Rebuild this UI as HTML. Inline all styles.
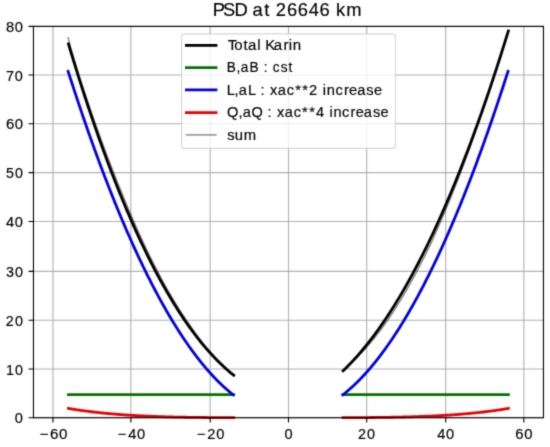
<!DOCTYPE html>
<html><head><meta charset="utf-8"><style>
html,body{margin:0;padding:0;background:#fff;}
body{width:550px;height:447px;overflow:hidden;font-family:"Liberation Sans",sans-serif;}
svg{display:block;will-change:transform;}
</style></head><body>
<svg width="550" height="447" viewBox="0 0 550 447"><defs><filter id="soft" color-interpolation-filters="sRGB" filterUnits="userSpaceOnUse" x="0" y="0" width="550" height="447"><feConvolveMatrix order="3" kernelMatrix="0.02250 0.10500 0.02250 0.10500 0.49000 0.10500 0.02250 0.10500 0.02250" divisor="1" edgeMode="duplicate"/></filter></defs><g filter="url(#soft)"><rect width="550" height="447" fill="#fff"/><path d="M52.95 26.40V417.70M130.87 26.40V417.70M210.16 26.40V417.70M288.50 26.40V417.70M366.70 26.40V417.70M445.70 26.40V417.70M523.87 26.40V417.70M33.46 417.70H543.46M33.46 369.05H543.46M33.46 320.30H543.46M33.46 271.40H543.46M33.46 221.50H543.46M33.46 172.60H543.46M33.46 123.70H543.46M33.46 75.05H543.46M33.46 26.40H543.46" stroke="#b0b0b0" stroke-width="1.1" fill="none"/><polyline points="68.47,43.87 69.51,47.35 70.55,50.81 71.59,54.26 72.63,57.68 73.66,61.08 74.70,64.46 75.74,67.82 76.78,71.17 77.82,74.49 78.86,77.80 79.90,81.09 80.94,84.35 81.98,87.60 83.02,90.83 84.05,94.04 85.09,97.23 86.13,100.40 87.17,103.56 88.21,106.69 89.25,109.81 90.29,112.90 91.33,115.98 92.37,119.04 93.41,122.08 94.44,125.10 95.48,128.11 96.52,131.09 97.56,134.06 98.60,137.01 99.64,139.93 100.68,142.84 101.72,145.74 102.76,148.61 103.80,151.47 104.83,154.30 105.87,157.12 106.91,159.92 107.95,162.70 108.99,165.47 110.03,168.21 111.07,170.94 112.11,173.65 113.15,176.34 114.19,179.02 115.22,181.67 116.26,184.31 117.30,186.93 118.34,189.53 119.38,192.11 120.42,194.68 121.46,197.23 122.50,199.76 123.54,202.27 124.58,204.77 125.61,207.24 126.65,209.70 127.69,212.15 128.73,214.57 129.77,216.98 130.81,219.37 131.85,221.74 132.89,224.10 133.93,226.43 134.97,228.75 136.00,231.06 137.04,233.34 138.08,235.61 139.12,237.86 140.16,240.10 141.20,242.31 142.24,244.51 143.28,246.70 144.32,248.86 145.36,251.01 146.39,253.14 147.43,255.26 148.47,257.36 149.51,259.44 150.55,261.50 151.59,263.55 152.63,265.58 153.67,267.60 154.71,269.59 155.75,271.58 156.78,273.54 157.82,275.49 158.86,277.42 159.90,279.33 160.94,281.23 161.98,283.11 163.02,284.98 164.06,286.83 165.10,288.66 166.14,290.48 167.17,292.28 168.21,294.06 169.25,295.83 170.29,297.58 171.33,299.32 172.37,301.04 173.41,302.74 174.45,304.43 175.49,306.10 176.53,307.76 177.56,309.39 178.60,311.02 179.64,312.63 180.68,314.22 181.72,315.80 182.76,317.36 183.80,318.90 184.84,320.43 185.88,321.94 186.92,323.44 187.95,324.92 188.99,326.39 190.03,327.84 191.07,329.28 192.11,330.70 193.15,332.10 194.19,333.49 195.23,334.87 196.27,336.23 197.31,337.57 198.34,338.90 199.38,340.21 200.42,341.51 201.46,342.79 202.50,344.06 203.54,345.32 204.58,346.55 205.62,347.78 206.66,348.99 207.70,350.18 208.73,351.36 209.77,352.52 210.81,353.67 211.85,354.80 212.89,355.92 213.93,357.03 214.97,358.12 216.01,359.19 217.05,360.25 218.09,361.30 219.12,362.33 220.16,363.35 221.20,364.35 222.24,365.34 223.28,366.31 224.32,367.27 225.36,368.22 226.40,369.15 227.44,370.07 228.48,370.97 229.51,371.86 230.55,372.73 231.59,373.59 232.63,374.44 233.67,375.27" fill="none" stroke="#000" stroke-width="2.8" stroke-linecap="square" stroke-linejoin="round"/><polyline points="68.47,394.61 69.51,394.61 70.55,394.61 71.59,394.61 72.63,394.61 73.66,394.61 74.70,394.61 75.74,394.61 76.78,394.61 77.82,394.61 78.86,394.61 79.90,394.61 80.94,394.61 81.98,394.61 83.02,394.61 84.05,394.61 85.09,394.61 86.13,394.61 87.17,394.61 88.21,394.61 89.25,394.61 90.29,394.61 91.33,394.61 92.37,394.61 93.41,394.61 94.44,394.61 95.48,394.61 96.52,394.61 97.56,394.61 98.60,394.61 99.64,394.61 100.68,394.61 101.72,394.61 102.76,394.61 103.80,394.61 104.83,394.61 105.87,394.61 106.91,394.61 107.95,394.61 108.99,394.61 110.03,394.61 111.07,394.61 112.11,394.61 113.15,394.61 114.19,394.61 115.22,394.61 116.26,394.61 117.30,394.61 118.34,394.61 119.38,394.61 120.42,394.61 121.46,394.61 122.50,394.61 123.54,394.61 124.58,394.61 125.61,394.61 126.65,394.61 127.69,394.61 128.73,394.61 129.77,394.61 130.81,394.61 131.85,394.61 132.89,394.61 133.93,394.61 134.97,394.61 136.00,394.61 137.04,394.61 138.08,394.61 139.12,394.61 140.16,394.61 141.20,394.61 142.24,394.61 143.28,394.61 144.32,394.61 145.36,394.61 146.39,394.61 147.43,394.61 148.47,394.61 149.51,394.61 150.55,394.61 151.59,394.61 152.63,394.61 153.67,394.61 154.71,394.61 155.75,394.61 156.78,394.61 157.82,394.61 158.86,394.61 159.90,394.61 160.94,394.61 161.98,394.61 163.02,394.61 164.06,394.61 165.10,394.61 166.14,394.61 167.17,394.61 168.21,394.61 169.25,394.61 170.29,394.61 171.33,394.61 172.37,394.61 173.41,394.61 174.45,394.61 175.49,394.61 176.53,394.61 177.56,394.61 178.60,394.61 179.64,394.61 180.68,394.61 181.72,394.61 182.76,394.61 183.80,394.61 184.84,394.61 185.88,394.61 186.92,394.61 187.95,394.61 188.99,394.61 190.03,394.61 191.07,394.61 192.11,394.61 193.15,394.61 194.19,394.61 195.23,394.61 196.27,394.61 197.31,394.61 198.34,394.61 199.38,394.61 200.42,394.61 201.46,394.61 202.50,394.61 203.54,394.61 204.58,394.61 205.62,394.61 206.66,394.61 207.70,394.61 208.73,394.61 209.77,394.61 210.81,394.61 211.85,394.61 212.89,394.61 213.93,394.61 214.97,394.61 216.01,394.61 217.05,394.61 218.09,394.61 219.12,394.61 220.16,394.61 221.20,394.61 222.24,394.61 223.28,394.61 224.32,394.61 225.36,394.61 226.40,394.61 227.44,394.61 228.48,394.61 229.51,394.61 230.55,394.61 231.59,394.61 232.63,394.61 233.67,394.61" fill="none" stroke="#007200" stroke-width="2.8" stroke-linecap="square" stroke-linejoin="round"/><polyline transform="translate(-0.35 0)" points="68.47,71.33 69.51,74.59 70.55,77.82 71.59,81.04 72.63,84.25 73.66,87.44 74.70,90.61 75.74,93.77 76.78,96.91 77.82,100.04 78.86,103.15 79.90,106.25 80.94,109.33 81.98,112.40 83.02,115.45 84.05,118.48 85.09,121.50 86.13,124.51 87.17,127.50 88.21,130.47 89.25,133.43 90.29,136.37 91.33,139.30 92.37,142.21 93.41,145.11 94.44,147.99 95.48,150.85 96.52,153.71 97.56,156.54 98.60,159.36 99.64,162.17 100.68,164.95 101.72,167.73 102.76,170.49 103.80,173.23 104.83,175.96 105.87,178.67 106.91,181.37 107.95,184.05 108.99,186.71 110.03,189.36 111.07,192.00 112.11,194.62 113.15,197.22 114.19,199.81 115.22,202.39 116.26,204.94 117.30,207.49 118.34,210.01 119.38,212.53 120.42,215.02 121.46,217.50 122.50,219.97 123.54,222.42 124.58,224.85 125.61,227.27 126.65,229.68 127.69,232.07 128.73,234.44 129.77,236.80 130.81,239.14 131.85,241.47 132.89,243.78 133.93,246.08 134.97,248.36 136.00,250.62 137.04,252.87 138.08,255.11 139.12,257.33 140.16,259.53 141.20,261.72 142.24,263.90 143.28,266.05 144.32,268.20 145.36,270.32 146.39,272.43 147.43,274.53 148.47,276.61 149.51,278.68 150.55,280.73 151.59,282.76 152.63,284.78 153.67,286.79 154.71,288.77 155.75,290.75 156.78,292.71 157.82,294.65 158.86,296.58 159.90,298.49 160.94,300.38 161.98,302.26 163.02,304.13 164.06,305.98 165.10,307.81 166.14,309.63 167.17,311.44 168.21,313.23 169.25,315.00 170.29,316.76 171.33,318.50 172.37,320.23 173.41,321.94 174.45,323.63 175.49,325.31 176.53,326.98 177.56,328.63 178.60,330.26 179.64,331.88 180.68,333.49 181.72,335.08 182.76,336.65 183.80,338.21 184.84,339.75 185.88,341.28 186.92,342.79 187.95,344.28 188.99,345.76 190.03,347.23 191.07,348.68 192.11,350.11 193.15,351.53 194.19,352.94 195.23,354.32 196.27,355.70 197.31,357.05 198.34,358.40 199.38,359.72 200.42,361.03 201.46,362.33 202.50,363.61 203.54,364.88 204.58,366.13 205.62,367.36 206.66,368.58 207.70,369.78 208.73,370.97 209.77,372.14 210.81,373.30 211.85,374.44 212.89,375.57 213.93,376.68 214.97,377.78 216.01,378.86 217.05,379.92 218.09,380.97 219.12,382.01 220.16,383.02 221.20,384.03 222.24,385.02 223.28,385.99 224.32,386.95 225.36,387.89 226.40,388.81 227.44,389.73 228.48,390.62 229.51,391.50 230.55,392.37 231.59,393.22 232.63,394.05 233.67,394.87" fill="none" stroke="#0000e0" stroke-width="2.8" stroke-linecap="square" stroke-linejoin="round"/><polyline points="68.47,408.46 69.51,408.63 70.55,408.80 71.59,408.97 72.63,409.13 73.66,409.30 74.70,409.46 75.74,409.62 76.78,409.78 77.82,409.93 78.86,410.08 79.90,410.23 80.94,410.38 81.98,410.53 83.02,410.67 84.05,410.81 85.09,410.95 86.13,411.09 87.17,411.22 88.21,411.35 89.25,411.48 90.29,411.61 91.33,411.74 92.37,411.86 93.41,411.99 94.44,412.11 95.48,412.23 96.52,412.34 97.56,412.46 98.60,412.57 99.64,412.68 100.68,412.79 101.72,412.90 102.76,413.01 103.80,413.11 104.83,413.21 105.87,413.31 106.91,413.41 107.95,413.51 108.99,413.61 110.03,413.70 111.07,413.79 112.11,413.88 113.15,413.97 114.19,414.06 115.22,414.15 116.26,414.23 117.30,414.31 118.34,414.40 119.38,414.48 120.42,414.55 121.46,414.63 122.50,414.71 123.54,414.78 124.58,414.85 125.61,414.93 126.65,415.00 127.69,415.06 128.73,415.13 129.77,415.20 130.81,415.26 131.85,415.33 132.89,415.39 133.93,415.45 134.97,415.51 136.00,415.57 137.04,415.63 138.08,415.68 139.12,415.74 140.16,415.79 141.20,415.84 142.24,415.90 143.28,415.95 144.32,416.00 145.36,416.05 146.39,416.09 147.43,416.14 148.47,416.19 149.51,416.23 150.55,416.27 151.59,416.32 152.63,416.36 153.67,416.40 154.71,416.44 155.75,416.48 156.78,416.51 157.82,416.55 158.86,416.59 159.90,416.62 160.94,416.66 161.98,416.69 163.02,416.72 164.06,416.76 165.10,416.79 166.14,416.82 167.17,416.85 168.21,416.88 169.25,416.90 170.29,416.93 171.33,416.96 172.37,416.98 173.41,417.01 174.45,417.03 175.49,417.06 176.53,417.08 177.56,417.10 178.60,417.13 179.64,417.15 180.68,417.17 181.72,417.19 182.76,417.21 183.80,417.23 184.84,417.25 185.88,417.26 186.92,417.28 187.95,417.30 188.99,417.31 190.03,417.33 191.07,417.35 192.11,417.36 193.15,417.37 194.19,417.39 195.23,417.40 196.27,417.42 197.31,417.43 198.34,417.44 199.38,417.45 200.42,417.46 201.46,417.47 202.50,417.48 203.54,417.50 204.58,417.50 205.62,417.51 206.66,417.52 207.70,417.53 208.73,417.54 209.77,417.55 210.81,417.56 211.85,417.56 212.89,417.57 213.93,417.58 214.97,417.59 216.01,417.59 217.05,417.60 218.09,417.60 219.12,417.61 220.16,417.61 221.20,417.62 222.24,417.62 223.28,417.63 224.32,417.63 225.36,417.64 226.40,417.64 227.44,417.65 228.48,417.65 229.51,417.65 230.55,417.66 231.59,417.66 232.63,417.66 233.67,417.66" fill="none" stroke="#e80000" stroke-width="2.8" stroke-linecap="square" stroke-linejoin="round"/><polyline points="68.20,37.86 69.24,42.05 70.28,46.21 71.32,49.93 72.36,53.42 73.40,56.89 74.44,60.33 75.48,63.76 76.52,67.17 77.56,70.55 78.60,73.92 79.64,77.27 80.68,80.57 81.72,83.74 82.77,86.89 83.81,90.02 84.85,93.14 85.89,96.24 86.93,99.32 87.97,102.38 89.01,105.42 90.05,108.45 91.09,111.46 92.13,114.45 93.17,117.42 94.21,120.38 95.25,123.31 96.29,126.23 97.34,129.13 98.38,132.02 99.42,134.89 100.46,137.75 101.50,140.61 102.54,143.45 103.58,146.28 104.62,149.08 105.66,151.87 106.70,154.65 107.74,157.40 108.78,160.14 109.82,162.86 110.86,165.56 111.91,168.24 112.95,170.91 113.99,173.56 115.03,176.19 116.07,178.80 117.11,181.40 118.15,183.98 119.19,186.54 120.23,189.09 121.27,191.62 122.31,194.13 123.35,196.62 124.39,199.16 125.43,201.70 126.48,204.22 127.52,206.72 128.56,209.20 129.60,211.67 130.64,214.12 131.68,216.55 132.72,218.97 133.76,221.36 134.80,223.74 135.84,226.10 136.88,228.44 137.92,230.77 138.96,233.07 140.01,235.36 141.05,237.63 142.09,239.89 143.13,242.12 144.17,244.34 145.21,246.55 146.25,248.73 147.29,250.90 148.33,253.05 149.37,255.18 150.41,257.30 151.45,259.40 152.49,261.48 153.53,263.54 154.58,265.59 155.62,267.62 156.66,269.63 157.70,271.63 158.74,273.61 159.78,275.57 160.82,277.52 161.86,279.46 162.90,281.37 163.94,283.27 164.98,285.16 166.02,287.02 167.06,288.87 168.10,290.71 169.15,292.52 170.19,294.32 171.23,296.11 172.27,297.87 173.31,299.62 174.35,301.36 175.39,303.07 176.43,304.77 177.47,306.46 178.51,308.13 179.55,309.78 180.59,311.41 181.63,313.03 182.67,314.64 183.72,316.22 184.76,317.80 185.80,319.35 186.84,320.90 187.88,322.45 188.92,323.98 189.96,325.50 191.00,327.00 192.04,328.48 193.08,329.95 194.12,331.40 195.16,332.84 196.20,334.26 197.24,335.66 198.29,337.05 199.33,338.42 200.37,339.78 201.41,341.12 202.45,342.44 203.49,343.75 204.53,345.04 205.57,346.32 206.61,347.58 207.65,348.83 208.69,350.06 209.73,351.27 210.77,352.47 211.82,353.64 212.86,354.80 213.90,355.95 214.94,357.08 215.98,358.20 217.02,359.30 218.06,360.38 219.10,361.45 220.14,362.51 221.18,363.55 222.22,364.58 223.26,365.59 224.30,366.58 225.34,367.56 226.39,368.53 227.43,369.48 228.47,370.42 229.51,371.34 230.55,372.25 231.59,373.14 232.63,374.02 233.67,374.88" fill="none" stroke="#000" stroke-opacity="0.5" stroke-width="1.35" stroke-linecap="square" stroke-linejoin="round"/><polyline points="343.15,370.70 344.19,369.71 345.23,368.70 346.27,367.68 347.31,366.64 348.34,365.59 349.38,364.53 350.42,363.46 351.46,362.37 352.50,361.27 353.54,360.15 354.58,359.02 355.62,357.88 356.66,356.73 357.70,355.56 358.73,354.37 359.77,353.18 360.81,351.97 361.85,350.74 362.89,349.50 363.93,348.25 364.97,346.99 366.01,345.71 367.05,344.42 368.09,343.11 369.12,341.79 370.16,340.46 371.20,339.11 372.24,337.75 373.28,336.37 374.32,334.98 375.36,333.58 376.40,332.16 377.44,330.73 378.48,329.29 379.51,327.83 380.55,326.35 381.59,324.87 382.63,323.36 383.67,321.85 384.71,320.32 385.75,318.77 386.79,317.22 387.83,315.64 388.87,314.06 389.90,312.46 390.94,310.84 391.98,309.21 393.02,307.57 394.06,305.91 395.10,304.24 396.14,302.55 397.18,300.85 398.22,299.13 399.26,297.40 400.29,295.66 401.33,293.90 402.37,292.13 403.41,290.34 404.45,288.54 405.49,286.72 406.53,284.89 407.57,283.04 408.61,281.18 409.65,279.30 410.68,277.41 411.72,275.51 412.76,273.59 413.80,271.65 414.84,269.70 415.88,267.74 416.92,265.76 417.96,263.77 419.00,261.76 420.04,259.73 421.07,257.70 422.11,255.64 423.15,253.57 424.19,251.49 425.23,249.39 426.27,247.28 427.31,245.15 428.35,243.01 429.39,240.85 430.43,238.67 431.46,236.48 432.50,234.28 433.54,232.06 434.58,229.83 435.62,227.58 436.66,225.31 437.70,223.03 438.74,220.74 439.78,218.43 440.82,216.10 441.85,213.76 442.89,211.40 443.93,209.03 444.97,206.64 446.01,204.24 447.05,201.82 448.09,199.39 449.13,196.94 450.17,194.47 451.21,191.99 452.24,189.49 453.28,186.98 454.32,184.46 455.36,181.91 456.40,179.35 457.44,176.78 458.48,174.19 459.52,171.58 460.56,168.96 461.60,166.33 462.63,163.67 463.67,161.00 464.71,158.32 465.75,155.62 466.79,152.90 467.83,150.17 468.87,147.42 469.91,144.66 470.95,141.88 471.99,139.08 473.02,136.27 474.06,133.44 475.10,130.60 476.14,127.74 477.18,124.86 478.22,121.97 479.26,119.06 480.30,116.13 481.34,113.19 482.38,110.23 483.41,107.26 484.45,104.27 485.49,101.27 486.53,98.24 487.57,95.20 488.61,92.15 489.65,89.08 490.69,85.99 491.73,82.89 492.77,79.77 493.80,76.63 494.84,73.48 495.88,70.31 496.92,67.12 497.96,63.92 499.00,60.70 500.04,57.46 501.08,54.21 502.12,50.94 503.16,47.65 504.19,44.35 505.23,41.03 506.27,37.69 507.31,34.34 508.35,30.97" fill="none" stroke="#000" stroke-width="2.8" stroke-linecap="square" stroke-linejoin="round"/><polyline points="343.15,394.61 344.19,394.61 345.23,394.61 346.27,394.61 347.31,394.61 348.34,394.61 349.38,394.61 350.42,394.61 351.46,394.61 352.50,394.61 353.54,394.61 354.58,394.61 355.62,394.61 356.66,394.61 357.70,394.61 358.73,394.61 359.77,394.61 360.81,394.61 361.85,394.61 362.89,394.61 363.93,394.61 364.97,394.61 366.01,394.61 367.05,394.61 368.09,394.61 369.12,394.61 370.16,394.61 371.20,394.61 372.24,394.61 373.28,394.61 374.32,394.61 375.36,394.61 376.40,394.61 377.44,394.61 378.48,394.61 379.51,394.61 380.55,394.61 381.59,394.61 382.63,394.61 383.67,394.61 384.71,394.61 385.75,394.61 386.79,394.61 387.83,394.61 388.87,394.61 389.90,394.61 390.94,394.61 391.98,394.61 393.02,394.61 394.06,394.61 395.10,394.61 396.14,394.61 397.18,394.61 398.22,394.61 399.26,394.61 400.29,394.61 401.33,394.61 402.37,394.61 403.41,394.61 404.45,394.61 405.49,394.61 406.53,394.61 407.57,394.61 408.61,394.61 409.65,394.61 410.68,394.61 411.72,394.61 412.76,394.61 413.80,394.61 414.84,394.61 415.88,394.61 416.92,394.61 417.96,394.61 419.00,394.61 420.04,394.61 421.07,394.61 422.11,394.61 423.15,394.61 424.19,394.61 425.23,394.61 426.27,394.61 427.31,394.61 428.35,394.61 429.39,394.61 430.43,394.61 431.46,394.61 432.50,394.61 433.54,394.61 434.58,394.61 435.62,394.61 436.66,394.61 437.70,394.61 438.74,394.61 439.78,394.61 440.82,394.61 441.85,394.61 442.89,394.61 443.93,394.61 444.97,394.61 446.01,394.61 447.05,394.61 448.09,394.61 449.13,394.61 450.17,394.61 451.21,394.61 452.24,394.61 453.28,394.61 454.32,394.61 455.36,394.61 456.40,394.61 457.44,394.61 458.48,394.61 459.52,394.61 460.56,394.61 461.60,394.61 462.63,394.61 463.67,394.61 464.71,394.61 465.75,394.61 466.79,394.61 467.83,394.61 468.87,394.61 469.91,394.61 470.95,394.61 471.99,394.61 473.02,394.61 474.06,394.61 475.10,394.61 476.14,394.61 477.18,394.61 478.22,394.61 479.26,394.61 480.30,394.61 481.34,394.61 482.38,394.61 483.41,394.61 484.45,394.61 485.49,394.61 486.53,394.61 487.57,394.61 488.61,394.61 489.65,394.61 490.69,394.61 491.73,394.61 492.77,394.61 493.80,394.61 494.84,394.61 495.88,394.61 496.92,394.61 497.96,394.61 499.00,394.61 500.04,394.61 501.08,394.61 502.12,394.61 503.16,394.61 504.19,394.61 505.23,394.61 506.27,394.61 507.31,394.61 508.35,394.61" fill="none" stroke="#007200" stroke-width="2.8" stroke-linecap="square" stroke-linejoin="round"/><polyline transform="translate(-0.35 0)" points="343.15,394.87 344.19,394.05 345.23,393.22 346.27,392.37 347.31,391.50 348.34,390.62 349.38,389.73 350.42,388.81 351.46,387.89 352.50,386.95 353.54,385.99 354.58,385.02 355.62,384.03 356.66,383.02 357.70,382.01 358.73,380.97 359.77,379.92 360.81,378.86 361.85,377.78 362.89,376.68 363.93,375.57 364.97,374.44 366.01,373.30 367.05,372.14 368.09,370.97 369.12,369.78 370.16,368.58 371.20,367.36 372.24,366.13 373.28,364.88 374.32,363.61 375.36,362.33 376.40,361.03 377.44,359.72 378.48,358.40 379.51,357.05 380.55,355.70 381.59,354.32 382.63,352.94 383.67,351.53 384.71,350.11 385.75,348.68 386.79,347.23 387.83,345.76 388.87,344.28 389.90,342.79 390.94,341.28 391.98,339.75 393.02,338.21 394.06,336.65 395.10,335.08 396.14,333.49 397.18,331.88 398.22,330.26 399.26,328.63 400.29,326.98 401.33,325.31 402.37,323.63 403.41,321.94 404.45,320.23 405.49,318.50 406.53,316.76 407.57,315.00 408.61,313.23 409.65,311.44 410.68,309.63 411.72,307.81 412.76,305.98 413.80,304.13 414.84,302.26 415.88,300.38 416.92,298.49 417.96,296.58 419.00,294.65 420.04,292.71 421.07,290.75 422.11,288.77 423.15,286.79 424.19,284.78 425.23,282.76 426.27,280.73 427.31,278.68 428.35,276.61 429.39,274.53 430.43,272.43 431.46,270.32 432.50,268.20 433.54,266.05 434.58,263.90 435.62,261.72 436.66,259.53 437.70,257.33 438.74,255.11 439.78,252.87 440.82,250.62 441.85,248.36 442.89,246.08 443.93,243.78 444.97,241.47 446.01,239.14 447.05,236.80 448.09,234.44 449.13,232.07 450.17,229.68 451.21,227.27 452.24,224.85 453.28,222.42 454.32,219.97 455.36,217.50 456.40,215.02 457.44,212.53 458.48,210.01 459.52,207.49 460.56,204.94 461.60,202.39 462.63,199.81 463.67,197.22 464.71,194.62 465.75,192.00 466.79,189.36 467.83,186.71 468.87,184.05 469.91,181.37 470.95,178.67 471.99,175.96 473.02,173.23 474.06,170.49 475.10,167.73 476.14,164.95 477.18,162.17 478.22,159.36 479.26,156.54 480.30,153.71 481.34,150.85 482.38,147.99 483.41,145.11 484.45,142.21 485.49,139.30 486.53,136.37 487.57,133.43 488.61,130.47 489.65,127.50 490.69,124.51 491.73,121.50 492.77,118.48 493.80,115.45 494.84,112.40 495.88,109.33 496.92,106.25 497.96,103.15 499.00,100.04 500.04,96.91 501.08,93.77 502.12,90.61 503.16,87.44 504.19,84.25 505.23,81.04 506.27,77.82 507.31,74.59 508.35,71.33" fill="none" stroke="#0000e0" stroke-width="2.8" stroke-linecap="square" stroke-linejoin="round"/><polyline points="343.15,417.66 344.19,417.66 345.23,417.66 346.27,417.66 347.31,417.65 348.34,417.65 349.38,417.65 350.42,417.64 351.46,417.64 352.50,417.63 353.54,417.63 354.58,417.62 355.62,417.62 356.66,417.61 357.70,417.61 358.73,417.60 359.77,417.60 360.81,417.59 361.85,417.59 362.89,417.58 363.93,417.57 364.97,417.56 366.01,417.56 367.05,417.55 368.09,417.54 369.12,417.53 370.16,417.52 371.20,417.51 372.24,417.50 373.28,417.50 374.32,417.48 375.36,417.47 376.40,417.46 377.44,417.45 378.48,417.44 379.51,417.43 380.55,417.42 381.59,417.40 382.63,417.39 383.67,417.37 384.71,417.36 385.75,417.35 386.79,417.33 387.83,417.31 388.87,417.30 389.90,417.28 390.94,417.26 391.98,417.25 393.02,417.23 394.06,417.21 395.10,417.19 396.14,417.17 397.18,417.15 398.22,417.13 399.26,417.10 400.29,417.08 401.33,417.06 402.37,417.03 403.41,417.01 404.45,416.98 405.49,416.96 406.53,416.93 407.57,416.90 408.61,416.88 409.65,416.85 410.68,416.82 411.72,416.79 412.76,416.76 413.80,416.72 414.84,416.69 415.88,416.66 416.92,416.62 417.96,416.59 419.00,416.55 420.04,416.51 421.07,416.48 422.11,416.44 423.15,416.40 424.19,416.36 425.23,416.32 426.27,416.27 427.31,416.23 428.35,416.19 429.39,416.14 430.43,416.09 431.46,416.05 432.50,416.00 433.54,415.95 434.58,415.90 435.62,415.84 436.66,415.79 437.70,415.74 438.74,415.68 439.78,415.63 440.82,415.57 441.85,415.51 442.89,415.45 443.93,415.39 444.97,415.33 446.01,415.26 447.05,415.20 448.09,415.13 449.13,415.06 450.17,415.00 451.21,414.93 452.24,414.85 453.28,414.78 454.32,414.71 455.36,414.63 456.40,414.55 457.44,414.48 458.48,414.40 459.52,414.31 460.56,414.23 461.60,414.15 462.63,414.06 463.67,413.97 464.71,413.88 465.75,413.79 466.79,413.70 467.83,413.61 468.87,413.51 469.91,413.41 470.95,413.31 471.99,413.21 473.02,413.11 474.06,413.01 475.10,412.90 476.14,412.79 477.18,412.68 478.22,412.57 479.26,412.46 480.30,412.34 481.34,412.23 482.38,412.11 483.41,411.99 484.45,411.86 485.49,411.74 486.53,411.61 487.57,411.48 488.61,411.35 489.65,411.22 490.69,411.09 491.73,410.95 492.77,410.81 493.80,410.67 494.84,410.53 495.88,410.38 496.92,410.23 497.96,410.08 499.00,409.93 500.04,409.78 501.08,409.62 502.12,409.46 503.16,409.30 504.19,409.13 505.23,408.97 506.27,408.80 507.31,408.63 508.35,408.46" fill="none" stroke="#e80000" stroke-width="2.8" stroke-linecap="square" stroke-linejoin="round"/><polyline points="343.15,370.84 344.19,369.92 345.23,368.98 346.27,368.04 347.31,367.08 348.34,366.11 349.38,365.13 350.42,364.13 351.46,363.12 352.50,362.10 353.54,361.07 354.58,360.02 355.62,358.97 356.66,357.90 357.70,356.81 358.73,355.72 359.77,354.62 360.81,353.51 361.85,352.40 362.89,351.27 363.93,350.12 364.97,348.97 366.01,347.80 367.05,346.62 368.09,345.43 369.12,344.22 370.16,343.01 371.20,341.78 372.24,340.53 373.28,339.28 374.32,338.01 375.36,336.73 376.40,335.44 377.44,334.14 378.48,332.82 379.51,331.49 380.55,330.15 381.59,328.79 382.63,327.42 383.67,325.95 384.71,324.47 385.75,322.98 386.79,321.47 387.83,319.95 388.87,318.42 389.90,316.87 390.94,315.30 391.98,313.73 393.02,312.14 394.06,310.53 395.10,308.91 396.14,307.28 397.18,305.63 398.22,303.97 399.26,302.30 400.29,300.61 401.33,298.91 402.37,297.19 403.41,295.46 404.45,293.72 405.49,291.96 406.53,290.17 407.57,288.35 408.61,286.51 409.65,284.65 410.68,282.79 411.72,280.90 412.76,279.01 413.80,277.10 414.84,275.17 415.88,273.23 416.92,271.27 417.96,269.30 419.00,267.31 420.04,265.31 421.07,263.30 422.11,261.27 423.15,259.22 424.19,257.16 425.23,255.08 426.27,252.99 427.31,250.89 428.35,248.77 429.39,246.63 430.43,244.42 431.46,242.17 432.50,239.91 433.54,237.62 434.58,235.33 435.62,233.01 436.66,230.68 437.70,228.34 438.74,225.97 439.78,223.59 440.82,221.20 441.85,218.79 442.89,216.36 443.93,213.92 444.97,211.45 446.01,208.98 447.05,206.48 448.09,203.97 449.13,201.45 450.17,198.90 451.21,196.34 452.24,193.77 453.28,191.17 454.32,188.58 455.36,185.96 456.40,183.33 457.44,180.68 458.48,178.02 459.52,175.34 460.56,172.64 461.60,169.92 462.63,167.19 463.67,164.44 464.71,161.68 465.75,158.90 466.79,156.10 467.83,153.28 468.87,150.45 469.91,147.60 470.95,144.73 471.99,141.85 473.02,138.95 474.06,136.03 475.10,133.10 476.14,130.15 477.18,127.19 478.22,124.25 479.26,121.29 480.30,118.31 481.34,115.32 482.38,112.31 483.41,109.28 484.45,106.24 485.49,103.17 486.53,100.10 487.57,97.00 488.61,93.89 489.65,90.76 490.69,87.61 491.73,84.45 492.77,81.27 493.80,78.07 494.84,74.86 495.88,71.63 496.92,68.38 497.96,65.13 499.00,61.86 500.04,58.57 501.08,55.27 502.12,51.94 503.16,48.61 504.19,45.25 505.23,41.88 506.27,38.49 507.31,35.08 508.35,31.65" fill="none" stroke="#000" stroke-opacity="0.5" stroke-width="1.35" stroke-linecap="square" stroke-linejoin="round"/><rect x="33.46" y="26.40" width="510.00" height="391.30" fill="none" stroke="#000" stroke-width="1.1"/><path d="M52.95 417.70v4.9M130.87 417.70v4.9M210.16 417.70v4.9M288.50 417.70v4.9M366.70 417.70v4.9M445.70 417.70v4.9M523.87 417.70v4.9M33.46 417.70h-4.9M33.46 369.05h-4.9M33.46 320.30h-4.9M33.46 271.40h-4.9M33.46 221.50h-4.9M33.46 172.60h-4.9M33.46 123.70h-4.9M33.46 75.05h-4.9M33.46 26.40h-4.9" stroke="#000" stroke-width="1.1" fill="none"/><text transform="translate(0 423.45) scale(0.9898 1)" x="14.98" y="0" font-family="Liberation Sans, sans-serif" font-size="14.79" fill="#000" stroke="#000" stroke-width="0.16">0</text><text transform="translate(0 374.80) scale(0.9676 1)" x="6.21 15.42" y="0" font-family="Liberation Sans, sans-serif" font-size="14.79" fill="#000" stroke="#000" stroke-width="0.16">10</text><text transform="translate(0 326.05) scale(0.9719 1)" x="6.05 15.33" y="0" font-family="Liberation Sans, sans-serif" font-size="14.79" fill="#000" stroke="#000" stroke-width="0.16">20</text><text transform="translate(0 277.15) scale(0.9702 1)" x="6.28 15.37" y="0" font-family="Liberation Sans, sans-serif" font-size="14.79" fill="#000" stroke="#000" stroke-width="0.16">30</text><text transform="translate(0 227.25) scale(0.9899 1)" x="6.05 14.98" y="0" font-family="Liberation Sans, sans-serif" font-size="14.79" fill="#000" stroke="#000" stroke-width="0.16">40</text><text transform="translate(0 178.35) scale(0.9620 1)" x="6.29 15.53" y="0" font-family="Liberation Sans, sans-serif" font-size="14.79" fill="#000" stroke="#000" stroke-width="0.16">50</text><text transform="translate(0 129.45) scale(1.0071 1)" x="5.88 14.65" y="0" font-family="Liberation Sans, sans-serif" font-size="14.79" fill="#000" stroke="#000" stroke-width="0.16">60</text><text transform="translate(0 80.80) scale(0.9790 1)" x="6.14 15.19" y="0" font-family="Liberation Sans, sans-serif" font-size="14.79" fill="#000" stroke="#000" stroke-width="0.16">70</text><text transform="translate(0 32.15) scale(0.9952 1)" x="6.00 14.88" y="0" font-family="Liberation Sans, sans-serif" font-size="14.79" fill="#000" stroke="#000" stroke-width="0.16">80</text><text transform="translate(0 439.20) scale(1.0244 1)" x="38.74 48.94 57.56" y="0" font-family="Liberation Sans, sans-serif" font-size="14.79" fill="#000" stroke="#000" stroke-width="0.16">−60</text><text transform="translate(0 439.20) scale(0.9899 1)" x="118.95 129.50 138.43" y="0" font-family="Liberation Sans, sans-serif" font-size="14.79" fill="#000" stroke="#000" stroke-width="0.16">−40</text><text transform="translate(0 439.20) scale(0.9898 1)" x="199.07 209.44 218.55" y="0" font-family="Liberation Sans, sans-serif" font-size="14.79" fill="#000" stroke="#000" stroke-width="0.16">−20</text><text transform="translate(0 439.20) scale(0.9898 1)" x="287.36" y="0" font-family="Liberation Sans, sans-serif" font-size="14.79" fill="#000" stroke="#000" stroke-width="0.16">0</text><text transform="translate(0 439.20) scale(0.9719 1)" x="368.44 377.72" y="0" font-family="Liberation Sans, sans-serif" font-size="14.79" fill="#000" stroke="#000" stroke-width="0.16">20</text><text transform="translate(0 439.20) scale(0.9899 1)" x="441.68 450.61" y="0" font-family="Liberation Sans, sans-serif" font-size="14.79" fill="#000" stroke="#000" stroke-width="0.16">40</text><text transform="translate(0 439.20) scale(1.0071 1)" x="511.67 520.44" y="0" font-family="Liberation Sans, sans-serif" font-size="14.79" fill="#000" stroke="#000" stroke-width="0.16">60</text><text transform="translate(0 15.50) scale(1.0334 1)" x="205.77 215.84 226.90 239.67 244.43 255.80 261.56 266.93 277.68 288.21 298.74 309.27 319.47 325.21 335.03" y="0" font-family="Liberation Sans, sans-serif" font-size="17.75" fill="#000" stroke="#000" stroke-width="0.16">PSD at 26646 km</text><rect x="181.6" y="33.9" width="213.90" height="114.50" rx="3" ry="3" fill="#fff" fill-opacity="0.8" stroke="#cccccc" stroke-opacity="0.8" stroke-width="1.1"/><line x1="186.4" y1="45.4" x2="216.0" y2="45.4" stroke="#000" stroke-width="2.8" stroke-linecap="square"/><text transform="translate(0 49.90) scale(1.0156 1)" x="224.24 230.74 239.69 244.09 253.24 256.80 261.09 269.60 279.11 284.44 288.29" y="0" font-family="Liberation Sans, sans-serif" font-size="14.79" fill="#000" stroke="#000" stroke-width="0.16">Total Karin</text><line x1="186.4" y1="67.7" x2="216.0" y2="67.7" stroke="#007200" stroke-width="2.8" stroke-linecap="square"/><text transform="translate(0 72.30) scale(0.9219 1)" x="246.09 256.46 261.10 270.70 280.87 286.22 290.84 295.99 304.42 312.88" y="0" font-family="Liberation Sans, sans-serif" font-size="14.79" fill="#000" stroke="#000" stroke-width="0.16">B,aB : cst</text><line x1="186.4" y1="89.9" x2="216.0" y2="89.9" stroke="#0000e0" stroke-width="2.8" stroke-linecap="square"/><text transform="translate(0 94.80) scale(0.9901 1)" x="229.07 236.97 241.21 250.47 258.28 263.22 267.70 272.79 280.53 289.67 298.20 305.39 312.14 321.02 325.95 330.06 338.78 347.38 352.54 360.80 370.00 377.69" y="0" font-family="Liberation Sans, sans-serif" font-size="14.79" fill="#000" stroke="#000" stroke-width="0.16">L,aL : xac**2 increase</text><line x1="186.4" y1="112.55" x2="216.0" y2="112.55" stroke="#e80000" stroke-width="2.8" stroke-linecap="square"/><text transform="translate(0 117.20) scale(0.9861 1)" x="230.31 241.80 246.05 255.01 266.42 271.36 275.83 280.93 288.67 297.81 306.34 313.53 320.46 329.15 334.09 338.19 346.92 355.51 360.67 368.93 378.14 385.82" y="0" font-family="Liberation Sans, sans-serif" font-size="14.79" fill="#000" stroke="#000" stroke-width="0.16">Q,aQ : xac**4 increase</text><line x1="186.4" y1="134.9" x2="216.0" y2="134.9" stroke="#808080" stroke-width="1.35" stroke-linecap="square"/><text transform="translate(0 139.60) scale(1.0037 1)" x="226.40 233.78 242.83" y="0" font-family="Liberation Sans, sans-serif" font-size="14.79" fill="#000" stroke="#000" stroke-width="0.16">sum</text></g></svg>
</body></html>
